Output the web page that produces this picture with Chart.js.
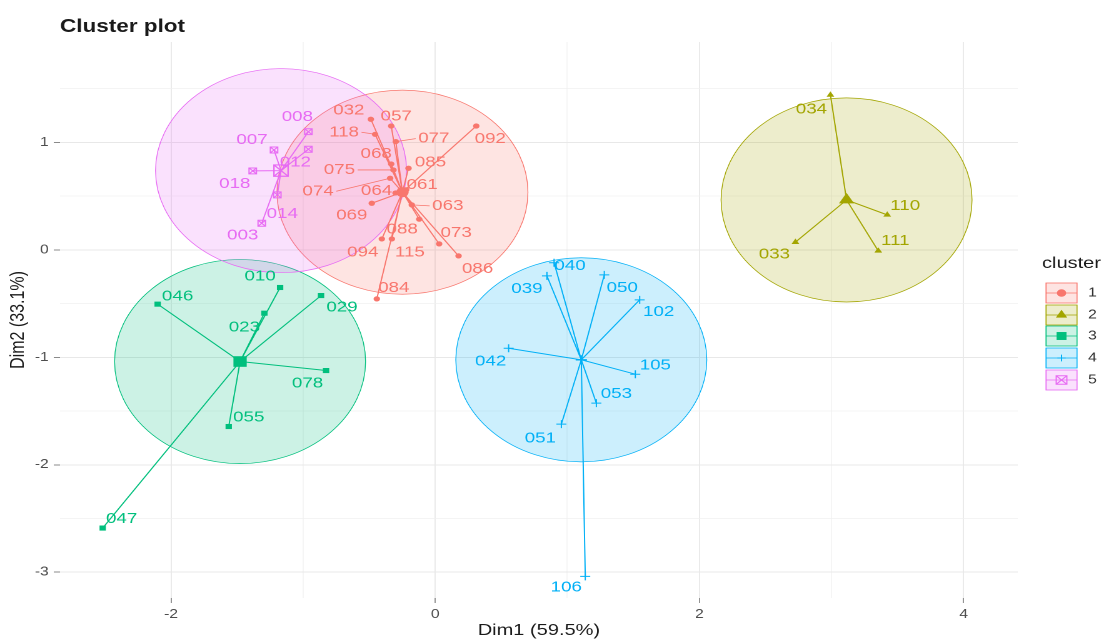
<!DOCTYPE html>
<html>
<head>
<meta charset="utf-8">
<title>Cluster plot</title>
<script src="https://cdn.jsdelivr.net/npm/chart.js"></script>
<style>
  html, body { margin: 0; padding: 0; background: #fff; overflow: hidden; }
  /* the reference image is stretched sideways, so the whole chart is too */
  #stage { width: 887px; height: 640px; transform: scaleX(1.2503); transform-origin: 0 0; }
</style>
</head>
<body>
<div id="stage"><canvas id="clusterChart" width="887" height="640"></canvas></div>
<script>
// ---- data (Dim1 / Dim2 coordinates) ----
const clusterNames = ['1', '2', '3', '4', '5'];

const c1Ids = ['032', '057', '118', '077', '092', '068', '075', '085', '074', '064', '061', '069', '063', '088', '094', '115', '073', '086', '084'];
const c1X = [-0.487, -0.333, -0.455, -0.298, 0.311, -0.333, -0.316, -0.202, -0.341, -0.300, -0.220, -0.480, -0.177, -0.121, -0.404, -0.328, 0.030, 0.177, -0.442];
const c1Y = [1.216, 1.153, 1.076, 1.008, 1.153, 0.800, 0.744, 0.760, 0.667, 0.530, 0.560, 0.434, 0.419, 0.286, 0.102, 0.102, 0.056, -0.056, -0.456];

const c2Ids = ['034', '110', '111', '033'];
const c2X = [2.992, 3.422, 3.354, 2.727];
const c2Y = [1.442, 0.326, -0.009, 0.072];

const c3Ids = ['010', '046', '029', '023', '078', '055', '047'];
const c3X = [-1.174, -2.101, -0.864, -1.293, -0.826, -1.563, -2.517];
const c3Y = [-0.350, -0.505, -0.425, -0.589, -1.123, -1.644, -2.589];

const c4Ids = ['040', '039', '050', '102', '042', '105', '053', '051', '106'];
const c4X = [0.900, 0.846, 1.280, 1.548, 0.556, 1.515, 1.220, 0.955, 1.136];
const c4Y = [-0.120, -0.242, -0.233, -0.465, -0.915, -1.157, -1.426, -1.622, -3.039];

const c5Ids = ['008', '012', '007', '018', '014', '003'];
const c5X = [-0.960, -0.960, -1.220, -1.381, -1.195, -1.313];
const c5Y = [1.100, 0.937, 0.930, 0.735, 0.512, 0.248];

// cluster centres and circle radius (euclid ellipse, level 0.95)
const centerX = [-0.248, 3.114, -1.477, 1.106, -1.167];
const centerY = [0.537, 0.465, -1.039, -1.023, 0.738];
const ellipseLevel = 0.95;

const xTicks = [-2, 0, 2, 4];
const yTicks = [-3, -2, -1, 0, 1];

// ---- styles ----
const S = 1109 / 887; // horizontal stretch applied by #stage
const FONT = '"Liberation Sans", Arial, Helvetica, sans-serif';
const colors = ['#F8766D', '#A3A500', '#00BF7D', '#00B0F6', '#E76BF3'];
const fills = ['rgba(248,118,109,0.2)', 'rgba(163,165,0,0.2)', 'rgba(0,191,125,0.2)', 'rgba(0,176,246,0.2)', 'rgba(231,107,243,0.2)'];
const shapes = [
  { style: 'circle', r: 2.6, cr: 5, bw: 0 },
  { style: 'triangle', r: 3.6, cr: 7, bw: 0 },
  { style: 'rect', r: 3.6, cr: 7.5, bw: 0 },
  { style: 'cross', r: 4, cr: 4.5, bw: 1 },
  { style: 'rect', r: 4.2, cr: 8, bw: 1, boxed: true },
];

// label offsets from their point, in screen px (ggrepel placement in the reference)
const labelNudge = {
  '032': [-22, -9], '057': [5, -9.5], '118': [-31, -2], '077': [38, -3], '092': [14, 13],
  '068': [-15, -10], '085': [22, -6], '075': [-54, 0], '074': [-72, 13], '064': [-19, -2],
  '061': [16, -5], '069': [-20, 12], '063': [36, 1], '088': [-17, 10], '073': [17, -11],
  '094': [-19, 13.5], '115': [18, 13.5], '086': [19, 13], '084': [17, -11],
  '034': [-19, 14.5], '110': [18, -9], '111': [17, -10], '033': [-21, 12],
  '010': [-20, -11], '046': [20, -8], '029': [21, 12], '023': [-20, 14], '078': [-18.5, 13],
  '055': [20, -9], '047': [19, -9],
  '040': [16, 3], '039': [-20, 13], '050': [18, 13], '102': [19, 12], '042': [-18, 13],
  '105': [20, -9], '053': [20, -9], '051': [-21, 14], '106': [-19, 11],
  '008': [-11, -15], '012': [-13, 13], '007': [-22, -10], '018': [-18, 13], '014': [5, 19], '003': [-19, 12],
};

const clusters = [
  { ids: c1Ids, x: c1X, y: c1Y },
  { ids: c2Ids, x: c2X, y: c2Y },
  { ids: c3Ids, x: c3X, y: c3Y },
  { ids: c4Ids, x: c4X, y: c4Y },
  { ids: c5Ids, x: c5X, y: c5Y },
];

const datasets = [];
clusters.forEach((cl, i) => {
  const center = { x: centerX[i], y: centerY[i] };
  const pts = cl.x.map((v, k) => ({ x: v, y: cl.y[k] }));
  const sh = shapes[i];

  // star segments centre -> each member
  datasets.push({
    label: `star ${clusterNames[i]}`,
    data: pts.flatMap((p) => [center, p]),
    showLine: true,
    pointRadius: 0,
    borderColor: colors[i],
    borderWidth: 1,
    order: 3,
  });

  datasets.push({
    label: clusterNames[i],
    data: pts,
    pointStyle: sh.style,
    pointRadius: sh.r,
    backgroundColor: sh.boxed ? 'rgba(0,0,0,0)' : colors[i],
    borderColor: colors[i],
    borderWidth: sh.bw,
    order: 2,
  });

  datasets.push({
    label: `centre ${clusterNames[i]}`,
    data: [center],
    pointStyle: sh.style,
    pointRadius: sh.cr,
    backgroundColor: sh.boxed ? 'rgba(0,0,0,0)' : colors[i],
    borderColor: colors[i],
    borderWidth: sh.boxed ? 1.2 : sh.bw * 1.4,
    order: 1,
  });

  if (sh.boxed) {
    datasets.push({ label: 'x', data: pts, pointStyle: 'crossRot', pointRadius: sh.r, borderColor: colors[i], borderWidth: 1, order: 2 });
    datasets.push({ label: 'x', data: [center], pointStyle: 'crossRot', pointRadius: sh.cr, borderColor: colors[i], borderWidth: 1.2, order: 1 });
  }
});

function drawShape(ctx, i, x, y, r) {
  const sh = shapes[i];
  ctx.fillStyle = sh.boxed ? 'rgba(0,0,0,0)' : colors[i];
  ctx.strokeStyle = colors[i];
  ctx.lineWidth = 1;
  Chart.helpers.drawPoint(ctx, { pointStyle: sh.style, radius: r, rotation: 0, borderWidth: sh.bw || (sh.style === 'cross' ? 1 : 0) }, x, y);
  if (sh.boxed) {
    Chart.helpers.drawPoint(ctx, { pointStyle: 'crossRot', radius: r, rotation: 0, borderWidth: 1 }, x, y);
  }
}

const ellipsePlugin = {
  id: 'ellipses',
  beforeDatasetsDraw(chart) {
    const { ctx, scales: { x, y } } = chart;
    ctx.save();
    clusterNames.forEach((_, i) => {
      const px = x.getPixelForValue(centerX[i]);
      const py = y.getPixelForValue(centerY[i]);
      const rx = Math.abs(x.getPixelForValue(centerX[i] + ellipseLevel) - px);
      const ry = Math.abs(y.getPixelForValue(centerY[i] + ellipseLevel) - py);
      ctx.beginPath();
      ctx.ellipse(px, py, rx, ry, 0, 0, Math.PI * 2);
      ctx.fillStyle = fills[i];
      ctx.fill();
      ctx.lineWidth = 0.7;
      ctx.strokeStyle = colors[i];
      ctx.stroke();
    });
    ctx.restore();
  },
};

const labelPlugin = {
  id: 'pointLabels',
  afterDatasetsDraw(chart) {
    const { ctx, scales: { x, y } } = chart;
    ctx.save();
    ctx.font = `15px ${FONT}`;
    ctx.textAlign = 'center';
    ctx.textBaseline = 'middle';
    clusters.forEach((cl, i) => {
      ctx.fillStyle = colors[i];
      ctx.strokeStyle = colors[i];
      ctx.lineWidth = 0.8;
      cl.ids.forEach((id, k) => {
        const px = x.getPixelForValue(cl.x[k]);
        const py = y.getPixelForValue(cl.y[k]);
        const [dx, dy] = labelNudge[id] || [0, -10];
        const lx = px + dx / S;
        const ly = py + dy;
        if (Math.abs(dx) > 30) {
          const half = ctx.measureText(id).width / 2 + 2;
          ctx.beginPath();
          ctx.moveTo(px, py);
          ctx.lineTo(lx - Math.sign(dx) * half, ly);
          ctx.stroke();
        }
        ctx.fillText(id, lx, ly);
      });
    });
    ctx.restore();
  },
};

const legendPlugin = {
  id: 'clusterLegend',
  afterDraw(chart) {
    const { ctx } = chart;
    ctx.save();
    // plot title
    ctx.fillStyle = '#1a1a1a';
    ctx.font = `bold 18px ${FONT}`;
    ctx.textAlign = 'left';
    ctx.textBaseline = 'alphabetic';
    ctx.fillText('Cluster plot', 48, 32);

    // legend
    const left = 1046 / S;
    const keyW = 31 / S;
    const keyH = 20;
    const rows = [293, 315, 336, 358, 380];
    ctx.font = `16px ${FONT}`;
    ctx.fillText('cluster', 1042 / S, 268);
    clusterNames.forEach((name, i) => {
      const cy = rows[i];
      ctx.fillStyle = fills[i];
      ctx.fillRect(left, cy - keyH / 2, keyW, keyH);
      ctx.strokeStyle = colors[i];
      ctx.lineWidth = 0.8;
      ctx.strokeRect(left, cy - keyH / 2, keyW, keyH);
      ctx.beginPath();
      ctx.moveTo(left, cy);
      ctx.lineTo(left + keyW, cy);
      ctx.stroke();
      drawShape(ctx, i, left + keyW / 2, cy, shapes[i].cr * 0.75);
      ctx.fillStyle = '#333';
      ctx.font = `12.5px ${FONT}`;
      ctx.textBaseline = 'middle';
      ctx.fillText(name, 1088 / S, cy);
    });
    ctx.restore();
  },
};

const isMajor = (ticks) => (c) => c.tick && ticks.includes(c.tick.value);
const xMajor = isMajor(xTicks);
const yMajor = isMajor(yTicks);

new Chart(document.getElementById('clusterChart'), {
  type: 'scatter',
  data: { datasets },
  options: {
    responsive: false,
    devicePixelRatio: 2,
    animation: false,
    events: [],
    layout: { padding: { left: 0, right: 73, top: 42, bottom: 0 } },
    plugins: {
      legend: { display: false },
      tooltip: { enabled: false },
      title: { display: false },
    },
    scales: {
      x: {
        type: 'linear',
        min: -2.84,
        max: 4.41,
        afterFit: (scale) => { scale.height = 42; },
        border: { display: false },
        grid: {
          color: (c) => (xMajor(c) ? '#e8e8e8' : '#f1f1f1'),
          lineWidth: (c) => (xMajor(c) ? 0.9 : 0.7),
          tickColor: (c) => (xMajor(c) ? '#8a8a8a' : 'rgba(0,0,0,0)'),
          tickLength: 5,
        },
        ticks: {
          stepSize: 1,
          includeBounds: false,
          autoSkip: false,
          maxRotation: 0,
          padding: 4,
          color: '#4d4d4d',
          font: { size: 12.5 },
          callback: (v) => (xTicks.includes(v) ? String(v) : ''),
        },
        title: { display: true, text: 'Dim1 (59.5%)', color: '#1a1a1a', font: { size: 16 }, padding: { top: 0, bottom: 0 } },
      },
      y: {
        type: 'linear',
        min: -3.24,
        max: 1.935,
        afterFit: (scale) => { scale.width = 48; },
        border: { display: false },
        grid: {
          color: (c) => (yMajor(c) ? '#e8e8e8' : '#f1f1f1'),
          lineWidth: (c) => (yMajor(c) ? 1 : 0.8),
          tickColor: (c) => (yMajor(c) ? '#8a8a8a' : 'rgba(0,0,0,0)'),
          tickLength: 5,
        },
        ticks: {
          stepSize: 0.5,
          includeBounds: false,
          autoSkip: false,
          padding: 4,
          color: '#4d4d4d',
          font: { size: 12.5 },
          callback: (v) => (yTicks.includes(v) ? String(v) : ''),
        },
        title: { display: true, text: 'Dim2 (33.1%)', color: '#1a1a1a', font: { size: 16 }, padding: { top: 5, bottom: 0 } },
      },
    },
  },
  plugins: [ellipsePlugin, labelPlugin, legendPlugin],
});

Chart.defaults.font.family = FONT;
</script>
</body>
</html>
